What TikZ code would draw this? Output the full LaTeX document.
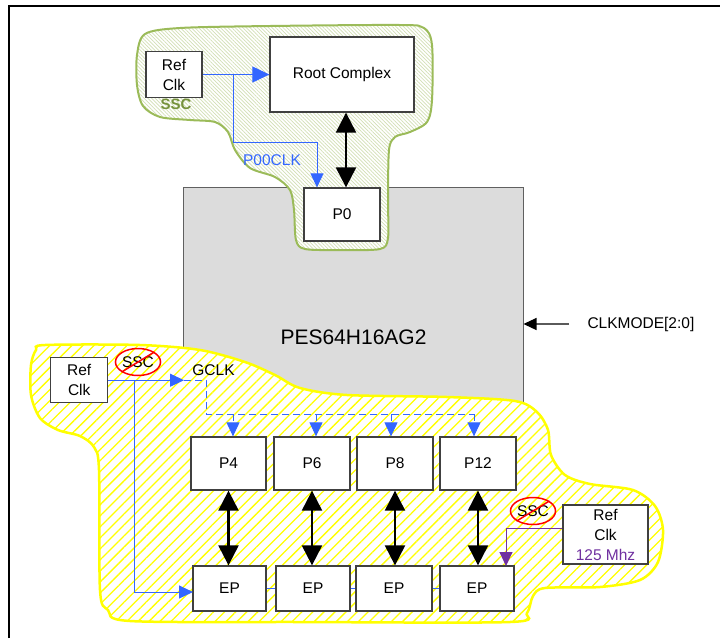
\documentclass[tikz,border=0pt]{standalone}
\usepackage{fontspec}
\setmainfont{Liberation Sans}
\usetikzlibrary{arrows.meta,patterns.meta,shapes.geometric}
\definecolor{clkblue}{RGB}{51,102,255}
\definecolor{clkpurple}{RGB}{112,48,160}
\definecolor{sscedge}{RGB}{155,187,89}
\definecolor{ssctext}{RGB}{118,146,60}
\definecolor{sschatch}{RGB}{210,223,180}
\definecolor{gclkedge}{RGB}{255,255,0}
\definecolor{chipgray}{RGB}{220,220,220}
\definecolor{chipedge}{RGB}{96,96,96}
\definecolor{boxgray}{RGB}{64,64,64}
\definecolor{arrowgray}{RGB}{90,90,90}

\begin{document}
\begin{tikzpicture}[x=1pt,y=-1pt,
  font=\fontsize{15.5}{20}\selectfont,
  box/.style={draw=boxgray,fill=white,line width=1.3pt,inner sep=0pt,align=center},
  clk/.style={draw=clkblue,line width=1pt,-{Triangle[length=14pt,width=13pt]}},
  bus/.style={clk,dash pattern=on 7pt off 4pt},
  link/.style={draw=black,line width=2.2pt,{Triangle[length=20pt,width=20pt]}-{Triangle[length=20pt,width=20pt]}},
  nossc/.style={ellipse,draw=red,line width=1.5pt,minimum width=40pt,minimum height=27pt,inner sep=0pt}]
\useasboundingbox (0,0) rectangle (720,638);
\draw[line width=2pt] (9,638) -- (9,6) -- (720,6);

\node[draw=chipedge,fill=chipgray,line width=1pt,minimum width=340pt,minimum height=260pt,inner sep=0pt] (chip) at (353,317) {};
\node[font=\fontsize{21}{24}\selectfont] (chiplabel) at (353.5,337.5) {PES64H16AG2};

\draw[draw=sscedge,line width=2pt,preaction={fill=white},
  pattern={Lines[angle=-45,distance=2.6pt,line width=0.7pt]},pattern color=sschatch]
  plot[smooth cycle,tension=0.5] coordinates {(145,34) (180,28) (270,26) (400,25) (424,28)
  (432,45) (432,100) (427,122) (410,132) (395,137) (389,150) (388,200) (388,238) (380,249)
  (340,250) (305,249) (296,240) (294,210) (290,190) (275,177) (250,168) (235,150) (228,132)
  (215,122) (190,120) (160,117) (143,106) (137,85) (137,55)};

\draw[draw=gclkedge,line width=2.5pt,preaction={fill=white},
  pattern={Lines[angle=45,distance=7.8pt,line width=1.3pt]},pattern color=gclkedge]
  plot[smooth cycle,tension=0.5] coordinates {(45,345) (140,345) (200,350) (245,362) (275,375)
  (300,388) (347,395) (447,397) (515,401) (537,412) (548,430) (551,455) (565,475) (590,484)
  (633,490) (655,506) (663,530) (658,562) (640,580) (600,587) (545,588) (533,596) (527,613)
  (510,622) (300,622) (130,621) (108,610) (100,590) (99,470) (94,447) (80,436) (58,430)
  (40,418) (31,395) (31,365) (36,350)};

\node[box,minimum width=56pt,minimum height=46pt] (refA) at (174,74.5) {Ref\\Clk};
\node[box,minimum width=144pt,minimum height=75pt] (root) at (342,74.5) {Root Complex};
\node[box,minimum width=76pt,minimum height=53pt] (p0) at (342,214.5) {P0};
\node[font=\fontsize{15}{18}\selectfont\bfseries,text=ssctext] (ssclabel) at (176,104) {SSC};
\node[text=clkblue] (p00clk) at (272,160) {P00CLK};

\draw[clk,-{Triangle[length=17pt,width=16pt]}] (refA.east) -- (root.west);
\coordinate (tapA) at (233,74.5);
\coordinate (p0in) at (317,142);
\draw[clk] (tapA) |- (p0in) -- (p0in |- p0.north);
\draw[link] ([xshift=4pt]root.south) -- ([xshift=4pt]p0.north);

\node[anchor=west] (clkmode) at (584,324) {CLKMODE[2:0]};
\draw[draw=arrowgray,line width=1.2pt,-{Triangle[length=13pt,width=12pt,color=black]}]
  ([xshift=-15pt]clkmode.west) -- (clkmode.west -| chip.east);

\node[box,minimum width=57pt,minimum height=45pt] (refB) at (79.2,380.2) {Ref\\Clk};
\node[nossc] (sscA) at (138,362) {SSC};
\draw[red,line width=1.5pt] (sscA.south west) -- (sscA.north east);
\node (gclklabel) at (213.5,370) {GCLK};

\node[box,minimum width=75pt,minimum height=53pt] (p4) at (228.5,463.5) {P4};
\node[box,minimum width=76pt,minimum height=53pt] (p6) at (312,463.5) {P6};
\node[box,minimum width=76pt,minimum height=53pt] (p8) at (395,463.5) {P8};
\node[box,minimum width=76pt,minimum height=53pt] (p12) at (478,463.5) {P12};
\node[box,minimum width=73pt,minimum height=45pt] (ep1) at (229.5,588.5) {EP};
\node[box,minimum width=74pt,minimum height=45pt] (ep2) at (313,588.5) {EP};
\node[box,minimum width=76pt,minimum height=45pt] (ep3) at (394,588.5) {EP};
\node[box,minimum width=74pt,minimum height=45pt] (ep4) at (477,588.5) {EP};
\node[box,minimum width=85pt,minimum height=59pt] (refC) at (605.5,534.5) {Ref\\Clk\\\textcolor{clkpurple}{125 Mhz}};
\node[nossc] (sscB) at (533,511) {SSC};
\draw[red,line width=1.5pt] (sscB.south west) -- (sscB.north east);

\coordinate (gclk) at (184,380.2);
\coordinate (busL) at (206,414);
\coordinate (busR) at (474,414);
\draw[clk] (refB.east) -- (gclk);
\draw[bus,-] (gclk) -| (busL) -- (busR);
\foreach \n/\x in {p4/233,p6/316,p8/391,p12/474}
  \draw[bus] (busL -| \x,0) -- (\n.north -| \x,0);

\coordinate (tapB) at (134,380.2);
\coordinate (epin) at (193,592);
\draw[clk] (tapB) |- (epin);
\foreach \a/\b in {ep1/ep2,ep2/ep3,ep3/ep4}
  \draw[clkblue,line width=1pt] (\a.east) -- (\b.west);

\foreach \p/\e in {p4/ep1,p6/ep2,p8/ep3,p12/ep4}
  \draw[link] (\p.south) -- (\p.south |- \e.north);

\coordinate (ep4in) at (506,566);
\draw[draw=clkpurple,line width=1pt,-{Triangle[length=14pt,width=13pt]}]
  (refC.west |- 0,528) -| (ep4in);
\end{tikzpicture}
\end{document}
